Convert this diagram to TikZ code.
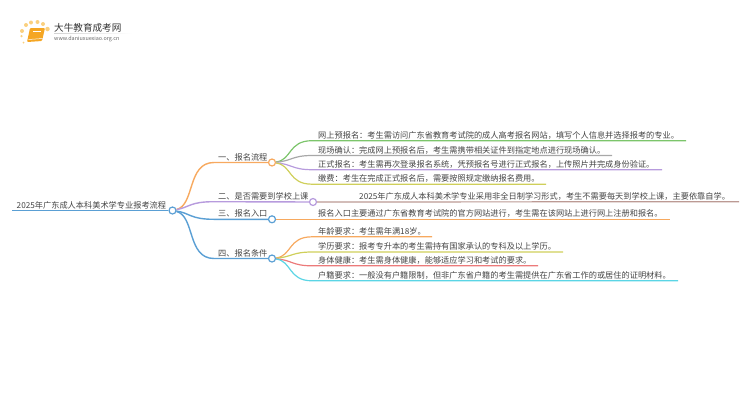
\documentclass[tikz,border=0pt]{standalone}
\usepackage{fontspec}
\setmainfont{Noto Sans CJK SC}
\usepackage{xcolor}
\definecolor{lineblue}{HTML}{5A9FD4}
\definecolor{lineorange}{HTML}{F7A95F}
\definecolor{linepurple}{HTML}{B79BDD}
\definecolor{linegreen}{HTML}{7CC56B}
\definecolor{linegray}{HTML}{A8A8A8}
\definecolor{lineyellow}{HTML}{CFCF5A}
\definecolor{linebrown}{HTML}{BC9A94}
\definecolor{linered}{HTML}{EC7A7A}
\definecolor{linecyan}{HTML}{5BD5E5}
\definecolor{textgray}{HTML}{444444}
\definecolor{bookorange}{HTML}{F5A623}
\definecolor{dotorange}{HTML}{FAD07F}
\tikzset{
  every node/.style={text=textgray,font=\fontsize{8.2}{10}\selectfont},
  label/.style={anchor=base west,inner sep=0pt},
  hub/.style={circle,draw,fill=white,line width=1.2pt,minimum size=7pt,inner sep=0pt},
  stem/.style={line width=1.4pt},
  twig/.style={line width=1.2pt},
  sun/.style={circle,fill=dotorange,minimum size=#1,inner sep=0pt},
}
\begin{document}
\begin{tikzpicture}[x=1pt,y=-1pt]
    \useasboundingbox (0,0) rectangle (750,410);
    % logo
    \node[sun=4pt] (s1) at (22,31) {};
    \node[sun=4pt] (s2) at (26,25) {};
    \node[sun=4pt] (s3) at (31,22.5) {};
    \node[sun=4pt] (s4) at (37.5,22) {};
    \node[sun=4pt] (s5) at (43,24) {};
    \node[sun=4.5pt] (s6) at (47.5,29) {};
    \node[sun=2.5pt] (s7) at (21.5,36) {};
    \node[sun=2pt] (s8) at (23.5,42.5) {};
    \fill[bookorange,rounded corners=1pt] (30,28) -- (45,28) -- (42,41) -- (27,42) -- cycle;
    \draw[white,line width=0.5pt] (28.5,39.5) -- (42.5,38.5);
    \draw[white,line width=0.5pt] (33,31) -- (41,31);
    \shade[left color=gray!35,right color=white] (54,33) rectangle (132,33.5);
    \node[label,font=\fontsize{9.6}{11}\selectfont,text=black!80] (brand) at (54,31) {大牛教育成考网};
    \node[label,font=\fontsize{5.4}{6}\selectfont,text=black!60] (site) at (54,40.5) {www.daniuxuexiao.org.cn};

    % hubs
    \node[hub,draw=lineblue] (rootdot) at (172.5,210.5) {};
    \node[hub,draw=lineorange] (firstdot) at (272,162.5) {};
    \node[hub,draw=linepurple] (seconddot) at (313,202) {};
    \node[hub,draw=lineblue] (thirddot) at (272,219.3) {};
    \node[hub,draw=lineblue] (fourthdot) at (272,258.5) {};

    % free ends
    \coordinate (rootstart) at (12,210.5);
    \coordinate (firstbend) at (214,162.5);
    \coordinate (secondbend) at (214,201.7);
    \coordinate (thirdbend) at (214,219.3);
    \coordinate (fourthbend) at (214,258.5);
    \coordinate (secondend) at (739,201.7);
    \coordinate (thirdend) at (670,219.3);

    % trunk
    \draw[stem,lineblue] (rootstart) -- (rootdot);
    \draw[stem,lineorange] (rootdot) .. controls (195,205) and (187,162.5) .. (firstbend) -- (firstdot);
    \draw[stem,linepurple] (rootdot) .. controls (190,207) and (190,201.7) .. (secondbend) -- (seconddot);
    \draw[stem,lineblue] (rootdot) .. controls (190,213) and (190,219.3) .. (thirdbend) -- (thirddot);
    \draw[stem,lineblue] (rootdot) .. controls (195,216) and (187,258.5) .. (fourthbend) -- (fourthdot);
    \draw[twig,linebrown] (seconddot) -- (secondend);
    \draw[twig,lineorange] (thirddot) -- (thirdend);

    % first group
    \draw[twig,linegreen] (firstdot) .. controls (292,160) and (288,140.7) .. (312,140.7) -- (686,140.7);
    \draw[twig,linegray] (firstdot) .. controls (292,161) and (292,155.5) .. (312,155.5) -- (612,155.5);
    \draw[twig,linepurple] (firstdot) .. controls (292,164) and (292,169.7) .. (312,169.7) -- (662,169.7);
    \draw[twig,lineyellow] (firstdot) .. controls (292,165) and (288,184.2) .. (312,184.2) -- (546,184.2);

    % fourth group
    \draw[twig,lineorange] (fourthdot) .. controls (292,256) and (288,236.8) .. (312,236.8) -- (432,236.8);
    \draw[twig,lineyellow] (fourthdot) .. controls (292,257) and (292,252) .. (312,252) -- (563,252);
    \draw[twig,linered] (fourthdot) .. controls (292,260) and (292,265.8) .. (312,265.8) -- (538,265.8);
    \draw[twig,linecyan] (fourthdot) .. controls (292,261) and (288,280.8) .. (312,280.8) -- (678,280.8);

    % texts
    \node[label] (roottext) at (16.5,208) {2025年广东成人本科美术学专业报考流程};
    \node[label] (firsttext) at (218,160) {一、报名流程};
    \node[label] (secondtext) at (218,199.2) {二、是否需要到学校上课};
    \node[label] (thirdtext) at (218,216.8) {三、报名入口};
    \node[label] (fourthtext) at (218,256) {四、报名条件};

    \node[label] (signup) at (318,138.2) {网上预报名：考生需访问广东省教育考试院的成人高考报名网站，填写个人信息并选择报考的专业。};
    \node[label] (confirm) at (318,153) {现场确认：完成网上预报名后，考生需携带相关证件到指定地点进行现场确认。};
    \node[label] (formal) at (318,167.2) {正式报名：考生需再次登录报名系统，凭预报名号进行正式报名，上传照片并完成身份验证。};
    \node[label] (payment) at (318,181.7) {缴费：考生在完成正式报名后，需要按照规定缴纳报名费用。};
    \node[label] (studytext) at (359,199.2) {2025年广东成人本科美术学专业采用非全日制学习形式，考生不需要每天到学校上课，主要依靠自学。};
    \node[label] (entrytext) at (318,216.8) {报名入口主要通过广东省教育考试院的官方网站进行，考生需在该网站上进行网上注册和报名。};
    \node[label] (agetext) at (318,234.3) {年龄要求：考生需年满18岁。};
    \node[label] (edutext) at (318,249.5) {学历要求：报考专升本的考生需持有国家承认的专科及以上学历。};
    \node[label] (healthtext) at (318,263.3) {身体健康：考生需身体健康，能够适应学习和考试的要求。};
    \node[label] (hukoutext) at (318,278.3) {户籍要求：一般没有户籍限制，但非广东省户籍的考生需提供在广东省工作的或居住的证明材料。};
\end{tikzpicture}
\end{document}
